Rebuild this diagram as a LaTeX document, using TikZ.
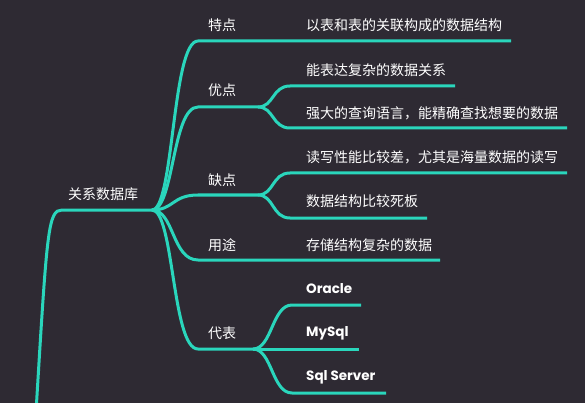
\documentclass[tikz,border=0pt]{standalone}
\usepackage{fontspec}
\setmainfont{Noto Sans CJK SC}
\newfontfamily\latfont{Poppins}
\definecolor{bgc}{RGB}{46,42,51}
\definecolor{teal}{RGB}{42,214,188}
\begin{document}
\begin{tikzpicture}[x=1pt,y=-1pt,
  conn/.style={draw=teal,line width=3pt},
  lbl/.style={anchor=west,inner sep=0pt,text=white,font=\fontsize{14}{16}\selectfont},
  latlbl/.style={anchor=west,inner sep=0pt,text=white,font=\fontsize{13.5}{16}\selectfont\latfont\bfseries}]
\useasboundingbox (0,0) rectangle (585,403);
\fill[bgc] (0,0) rectangle (585,403);
\clip (0,0) rectangle (585,403);

% text nodes
\node[lbl] (root) at (68,194) {关系数据库};
\node[lbl] (tedian) at (208,25) {特点};
\node[lbl] (youdian) at (208,90) {优点};
\node[lbl] (quedian) at (208,180) {缺点};
\node[lbl] (yongtu) at (208,245) {用途};
\node[lbl] (daibiao) at (208,333) {代表};
\node[lbl] (t1) at (306,25) {以表和表的关联构成的数据结构};
\node[lbl] (y1) at (306,70) {能表达复杂的数据关系};
\node[lbl] (y2) at (306,113) {强大的查询语言，能精确查找想要的数据};
\node[lbl] (q1) at (306,157) {读写性能比较差，尤其是海量数据的读写};
\node[lbl] (q2) at (306,201) {数据结构比较死板};
\node[lbl] (u1) at (306,245) {存储结构复杂的数据};
\node[latlbl] (d1) at (306,289) {Oracle};
\node[latlbl] (d2) at (306,333) {MySql};
\node[latlbl] (d3) at (306,377) {Sql Server};

% connector points
\coordinate (src) at (36,412);
\coordinate (rootS) at (62,210);
\coordinate (rootE) at (152,210);
\coordinate (tS) at (198,41);   \coordinate (tE) at (511,41);
\coordinate (yS) at (198,107);  \coordinate (yE) at (258,107);
\coordinate (qS) at (198,195);  \coordinate (qE) at (258,195);
\coordinate (uS) at (198,260);  \coordinate (uE) at (440,260);
\coordinate (dS) at (198,349);  \coordinate (dE) at (253,349);
\coordinate (y1S) at (290,86);  \coordinate (y1E) at (455,86);
\coordinate (y2S) at (290,128); \coordinate (y2E) at (567,128);
\coordinate (q1S) at (290,173); \coordinate (q1E) at (567,173);
\coordinate (q2S) at (290,218); \coordinate (q2E) at (427,218);
\coordinate (d1S) at (292,305); \coordinate (d1E) at (361,305);
\coordinate (d2E) at (359,349);
\coordinate (d3S) at (292,393); \coordinate (d3E) at (386,393);

% root connector
\draw[conn] (src) .. controls (47,230) and (48,210) .. (rootS) -- (rootE);
% first level
\draw[conn] (rootE) .. controls (174,210) and (172,41) .. (tS) -- (tE);
\draw[conn] (rootE) .. controls (174,210) and (172,107) .. (yS) -- (yE);
\draw[conn] (rootE) .. controls (174,210) and (172,195) .. (qS) -- (qE);
\draw[conn] (rootE) .. controls (174,210) and (172,260) .. (uS) -- (uE);
\draw[conn] (rootE) .. controls (174,210) and (172,349) .. (dS) -- (dE);
% second level
\draw[conn] (yE) .. controls (274,107) and (272,86) .. (y1S) -- (y1E);
\draw[conn] (yE) .. controls (274,107) and (272,128) .. (y2S) -- (y2E);
\draw[conn] (qE) .. controls (274,195) and (272,173) .. (q1S) -- (q1E);
\draw[conn] (qE) .. controls (274,195) and (272,218) .. (q2S) -- (q2E);
\draw[conn] (dE) .. controls (272,349) and (272,305) .. (d1S) -- (d1E);
\draw[conn] (dE) -- (d2E);
\draw[conn] (dE) .. controls (272,349) and (272,393) .. (d3S) -- (d3E);
\end{tikzpicture}
\end{document}
